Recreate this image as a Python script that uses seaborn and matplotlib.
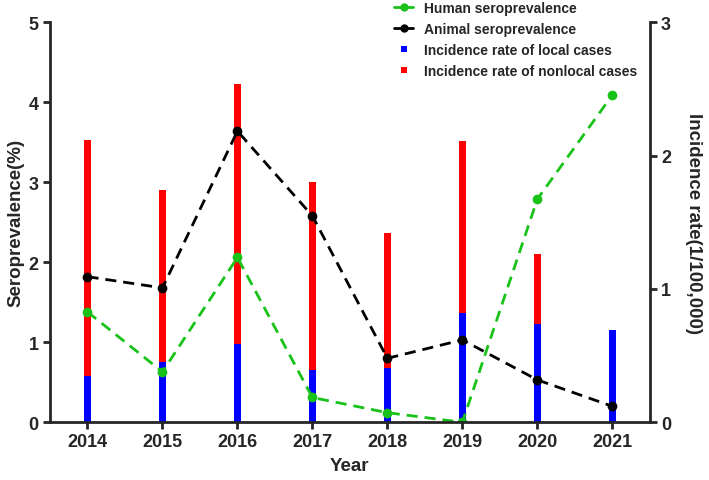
import matplotlib

matplotlib.use("Agg")
import matplotlib.pyplot as plt
import pandas as pd
import seaborn as sns
from matplotlib.lines import Line2D

years = [2014, 2015, 2016, 2017, 2018, 2019, 2020, 2021]
human_sero = [1.38, 0.63, 2.06, 0.31, 0.12, 0.00, 2.79, 4.09]
animal_sero = [1.82, 1.68, 3.64, 2.58, 0.80, 1.03, 0.53, 0.20]
local_rate = [0.35, 0.45, 0.59, 0.39, 0.41, 0.82, 0.74, 0.69]
nonlocal_rate = [1.77, 1.29, 1.95, 1.41, 1.01, 1.29, 0.52, 0.00]

GREEN = "#19c219"
BLUE = "#0000ff"
RED = "#ff0000"

df = pd.DataFrame({
    "year": years,
    "human": human_sero,
    "animal": animal_sero,
    "local": local_rate,
    "total": [a + b for a, b in zip(local_rate, nonlocal_rate)],
})

sns.set_theme(style="ticks")
plt.rcParams["font.family"] = ["Liberation Sans", "DejaVu Sans"]
plt.rcParams["font.weight"] = "bold"

fig = plt.figure(figsize=(7.09, 4.81), dpi=100)
ax = fig.add_axes([0.0705, 0.12, 0.846, 0.8315])
ax2 = ax.twinx()

# bars on the right axis (drawn below the lines); red = total, blue on top
bar_kw = dict(native_scale=True, width=0.09, linewidth=0, ax=ax2)
sns.barplot(data=df, x="year", y="total", color=RED, saturation=1, **bar_kw)
sns.barplot(data=df, x="year", y="local", color=BLUE, saturation=1, **bar_kw)

line_kw = dict(linewidth=2, marker="o", markersize=7, markeredgewidth=0,
               dashes=(4, 2.5), ax=ax)
sns.lineplot(data=df, x="year", y="animal", color="black", **line_kw)
sns.lineplot(data=df, x="year", y="human", color=GREEN, **line_kw)

ax.set_zorder(ax2.get_zorder() + 1)
ax.patch.set_visible(False)

ax.set_xlim(2013.5, 2021.5)
ax.set_ylim(0, 5)
ax2.set_ylim(0, 3)
ax.set_xticks(years)
ax.set_xticklabels([str(y) for y in years])
ax.set_yticks([0, 1, 2, 3, 4, 5])
ax2.set_yticks([0, 1, 2, 3])

for a in (ax, ax2):
    a.spines["top"].set_visible(False)
    for s in a.spines.values():
        s.set_linewidth(2)
    a.tick_params(width=2, length=5, labelsize=13, pad=3)
    for lab in a.get_xticklabels() + a.get_yticklabels():
        lab.set_fontweight("bold")
ax2.spines["left"].set_visible(False)
ax2.spines["bottom"].set_visible(False)
ax.spines["right"].set_visible(False)

ax.set_xlabel("Year", fontsize=13.5, fontweight="bold", labelpad=5)
ax.set_ylabel("Seroprevalence(%)", fontsize=13.5, fontweight="bold", labelpad=3)
ax2.set_ylabel("Incidence rate(1/100,000)", fontsize=13.5, fontweight="bold",
               rotation=270, labelpad=22)

handles = [
    Line2D([], [], color=GREEN, lw=2, marker="o", markersize=6, markeredgewidth=0),
    Line2D([], [], color="black", lw=2, marker="o", markersize=6, markeredgewidth=0),
    Line2D([], [], color=BLUE, lw=0, marker="s", markersize=5, markeredgewidth=0),
    Line2D([], [], color=RED, lw=0, marker="s", markersize=5, markeredgewidth=0),
]
labels = [
    "Human seroprevalence",
    "Animal seroprevalence",
    "Incidence rate of local cases",
    "Incidence rate of nonlocal cases",
]
fig.legend(handles, labels, loc="upper left", bbox_to_anchor=(0.538, 1.022),
           frameon=False, prop={"size": 10, "weight": "bold"},
           handlelength=1.4, handletextpad=0.8, labelspacing=0.5)

fig.savefig("out.png", dpi=100)
plt.close(fig)
